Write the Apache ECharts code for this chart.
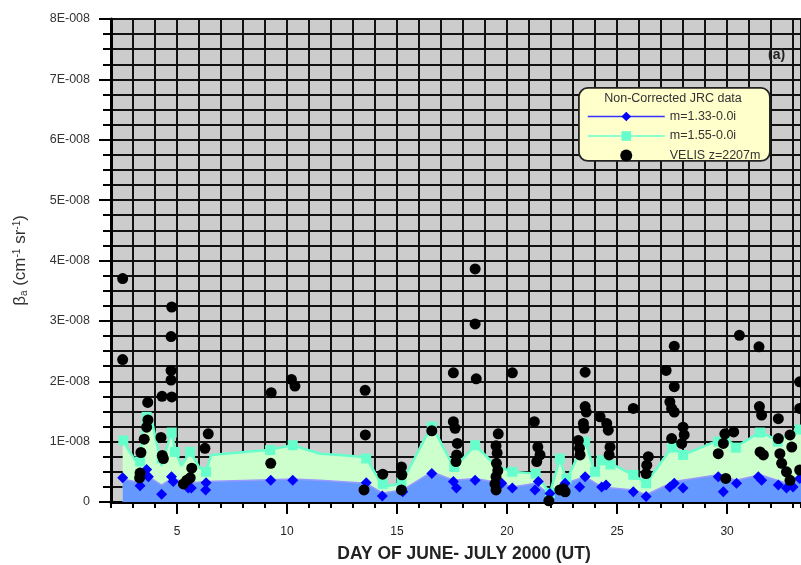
<!DOCTYPE html>
<html>
<head>
<meta charset="utf-8">
<script src="https://cdn.jsdelivr.net/npm/echarts@6/dist/echarts.min.js"></script>
<style>
html,body{margin:0;padding:0;background:#fff;}
#chart{width:801px;height:565px;}
</style>
</head>
<body>
<div id="chart"></div>
<script>
// Values in units of 1E-008 (cm^-1 sr^-1); x = day of June-July 2000 (UT)
var xLabelValues = [5, 10, 15, 20, 25, 30];
var yTickLabels = ['0', '1E-008', '2E-008', '3E-008', '4E-008', '5E-008', '6E-008', '7E-008', '8E-008'];

// VELIS z=2207m measurements
var velis = [
  [2.53,3.70],[2.53,2.36],
  [3.32,0.48],[3.36,0.82],[3.30,0.40],[3.51,1.04],[3.62,1.24],[3.68,1.36],[3.67,1.65],
  [4.27,1.07],[4.33,0.77],[4.38,0.72],[4.32,1.75],
  [4.76,1.74],[4.73,2.02],[4.73,2.18],[4.73,2.74],[4.76,3.23],
  [5.29,0.30],[5.44,0.36],[5.60,0.40],[5.67,0.56],
  [6.27,0.89],[6.42,1.13],
  [9.26,0.64],[9.28,1.81],
  [10.20,2.03],[10.36,1.92],
  [13.50,0.20],[13.56,1.11],[13.55,1.85],
  [14.35,0.46],
  [15.20,0.20],[15.22,0.45],[15.20,0.58],
  [16.58,1.18],
  [17.56,2.14],[17.56,1.33],[17.64,1.22],[17.74,0.97],[17.71,0.78],[17.68,0.67],
  [18.55,3.86],[18.55,2.95],[18.60,2.04],
  [19.50,0.20],[19.45,0.30],[19.50,0.42],[19.58,0.52],[19.52,0.64],[19.55,0.81],[19.50,0.93],[19.60,1.13],
  [20.24,2.14],
  [21.24,1.33],[21.40,0.91],[21.50,0.78],[21.35,0.67],
  [21.90,0.02],[22.40,0.20],[22.55,0.22],[22.64,0.17],
  [23.24,1.02],[23.29,0.89],[23.32,0.78],[23.47,1.30],[23.50,1.22],[23.55,1.58],[23.60,1.49],[23.55,2.15],
  [24.23,1.41],[24.53,1.30],[24.60,1.19],[24.68,0.91],[24.64,0.78],
  [25.74,1.55],
  [26.32,0.47],[26.35,0.61],[26.42,0.75],
  [27.23,2.18],[27.60,2.58],[27.60,1.91],[27.40,1.66],[27.48,1.55],[27.60,1.49],[27.48,1.05],
  [28.00,1.24],[28.05,1.11],[27.94,0.97],
  [29.60,0.80],[29.83,0.97],[29.90,1.13],[30.30,1.16],[29.94,0.39],
  [30.56,2.76],
  [31.45,2.57],[31.47,1.58],[31.57,1.44],[31.50,0.83],[31.65,0.78],
  [32.33,1.38],[32.33,1.05],[32.86,1.11],[32.94,0.91],[32.40,0.80],[32.48,0.64],[32.70,0.50],[32.86,0.36],
  [33.30,1.99],[33.30,1.55],[33.30,0.53]
];

// m=1.33-0.0i markers
var m133 = [
  [2.53,0.40],[3.32,0.27],[3.62,0.54],[3.70,0.42],[4.30,0.13],[4.75,0.42],[4.83,0.34],
  [5.51,0.23],[5.65,0.23],[6.30,0.20],[6.32,0.32],[9.26,0.36],[10.26,0.36],
  [13.60,0.32],[14.33,0.10],[15.26,0.17],[16.58,0.47],[17.56,0.34],[17.70,0.23],[18.55,0.36],
  [19.76,0.31],[20.24,0.23],[21.27,0.20],[21.42,0.34],[21.95,0.14],[22.64,0.31],
  [23.30,0.25],[23.55,0.42],[24.30,0.25],[24.50,0.28],[25.74,0.17],[26.32,0.09],
  [27.40,0.25],[27.60,0.31],[28.00,0.23],[29.60,0.42],[29.83,0.17],[30.43,0.31],
  [31.42,0.42],[31.57,0.36],[32.33,0.28],[32.70,0.23],[33.00,0.25],[33.30,0.39]
];
// m=1.33-0.0i filled curve
var m133Area = [
  [2.53,0.38],[3.32,0.32],[3.62,0.44],[4.30,0.28],[4.80,0.40],[5.20,0.34],[5.50,0.31],[6.32,0.34],
  [9.26,0.37],[10.26,0.38],[11.50,0.36],[13.60,0.31],[14.33,0.15],[15.26,0.20],[16.58,0.50],
  [17.56,0.36],[18.55,0.39],[19.76,0.31],[20.24,0.25],[21.30,0.31],[21.95,0.12],[22.40,0.28],
  [22.64,0.31],[23.55,0.42],[24.30,0.25],[25.74,0.20],[26.32,0.12],[27.60,0.34],[29.60,0.45],
  [30.40,0.36],[31.50,0.45],[32.70,0.31],[33.30,0.42],[33.70,0.40]
];

// m=1.55-0.0i markers
var m155 = [
  [2.56,1.02],[3.32,0.67],[3.62,1.41],[4.30,0.72],[4.76,1.15],[4.90,0.83],[5.59,0.83],
  [6.32,0.50],[9.23,0.86],[10.26,0.94],[13.60,0.72],[14.35,0.30],[15.20,0.33],[16.58,1.25],
  [17.60,0.58],[18.55,0.94],[20.24,0.50],[21.30,0.47],[21.95,0.15],[22.40,0.72],[22.70,0.38],
  [23.55,1.00],[24.00,0.50],[24.30,0.69],[24.70,0.62],[25.74,0.45],[26.32,0.31],[27.50,0.90],
  [28.00,0.78],[29.60,1.00],[29.90,1.06],[30.40,0.90],[31.50,1.15],[32.30,1.00],[33.30,1.20]
];
// m=1.55-0.0i filled curve
var m155Area = [
  [2.53,1.02],[3.10,0.69],[3.32,0.70],[3.50,1.46],[3.80,1.44],[4.30,0.60],[4.76,1.18],[4.90,0.86],
  [5.20,0.60],[5.60,0.83],[6.00,0.58],[6.32,0.50],[6.55,0.78],[9.10,0.86],[10.26,0.94],
  [11.50,0.80],[12.40,0.78],[13.60,0.74],[14.35,0.25],[15.20,0.31],[16.58,1.27],[17.60,0.56],
  [18.55,0.94],[19.50,0.60],[20.24,0.50],[21.30,0.47],[21.95,0.15],[22.40,0.72],[22.70,0.36],
  [23.55,1.02],[24.00,0.47],[24.30,0.69],[24.70,0.64],[25.74,0.45],[26.32,0.31],[27.50,0.91],
  [28.00,0.78],[29.60,1.02],[29.90,1.08],[30.40,0.91],[31.50,1.16],[32.30,1.02],[33.30,1.22],[33.70,1.20]
];

var FONT = '"Liberation Sans", Arial, sans-serif';
var chart = echarts.init(document.getElementById('chart'), null, {renderer: 'canvas'});
var black = '#000000';
var X_MIN = 2, X_MAX = 33.36;

chart.setOption({
  backgroundColor: '#ffffff',
  animation: false,
  textStyle: {fontFamily: FONT},
  grid: {left: 111, right: 0, top: 19, bottom: 63, show: true, backgroundColor: '#cccccc', borderWidth: 0},
  xAxis: [
    {
      type: 'value', min: X_MIN, max: X_MAX, interval: 1,
      axisLine: {show: true, onZero: false, lineStyle: {color: black, width: 3}},
      axisTick: {show: true, length: 6, lineStyle: {color: black, width: 2}},
      axisLabel: {show: false},
      splitLine: {show: true, lineStyle: {color: '#111', width: 2}}
    },
    {
      type: 'value', min: X_MIN, max: X_MAX, position: 'bottom',
      axisLine: {show: false},
      axisTick: {show: true, length: 12, customValues: xLabelValues, lineStyle: {color: black, width: 2}},
      axisLabel: {show: true, customValues: xLabelValues, fontSize: 12, color: '#222', margin: 24, fontFamily: FONT},
      splitLine: {show: false}
    }
  ],
  yAxis: {
    type: 'value', min: 0, max: 8, interval: 1,
    axisLine: {show: true, onZero: false, lineStyle: {color: black, width: 3}},
    axisTick: {show: true, length: 12, lineStyle: {color: black, width: 2}},
    minorTick: {show: true, splitNumber: 4, length: 8, lineStyle: {color: black, width: 2}},
    splitLine: {show: true, lineStyle: {color: '#111', width: 2}},
    minorSplitLine: {show: true, lineStyle: {color: '#111', width: 2}},
    axisLabel: {
      fontSize: 12.5, color: '#333', margin: 21, fontFamily: FONT,
      formatter: function (v) { return yTickLabels[Math.round(v)]; }
    },
    name: 'β{sub|a} (cm{sup|-1} sr{sup|-1})',
    nameLocation: 'middle', nameGap: 82, nameRotate: 90,
    nameTextStyle: {
      fontSize: 17, color: '#333', fontFamily: FONT,
      rich: {
        sub: {fontSize: 10, verticalAlign: 'bottom', color: '#333', padding: [7, 0, 0, 0]},
        sup: {fontSize: 10, verticalAlign: 'top', color: '#333', padding: [0, 0, 7, 0]}
      }
    }
  },
  legend: {
    orient: 'vertical', left: 582, top: 105, itemWidth: 77, itemHeight: 12, itemGap: 6.5,
    textStyle: {fontSize: 12.5, color: '#333', fontFamily: FONT},
    z: 10, selectedMode: false,
    data: [
      {name: 'm=1.33-0.0i', lineStyle: {color: '#3333ff', width: 1.5, opacity: 1}},
      {name: 'm=1.55-0.0i', lineStyle: {color: '#66ffcc', width: 1.5, opacity: 1}},
      {name: 'VELIS z=2207m'}
    ]
  },
  graphic: [
    {type: 'rect', left: 578, top: 87, z: 8,
     shape: {width: 191, height: 73, r: 9},
     style: {fill: '#ffffcc', stroke: '#222', lineWidth: 1.8}},
    {type: 'text', x: 673, y: 92, z: 9,
     style: {text: 'Non-Corrected JRC data', fill: '#333', font: '12.5px ' + FONT, textAlign: 'center', textVerticalAlign: 'top'}},
    {type: 'text', x: 768, y: 48, z: 9,
     style: {text: '(a)', fill: '#222', font: 'bold 14px ' + FONT, textVerticalAlign: 'top'}},
    {type: 'text', x: 464, y: 545, z: 9,
     style: {text: 'DAY OF JUNE- JULY 2000 (UT)', fill: '#222', font: 'bold 17.5px ' + FONT, textAlign: 'center', textVerticalAlign: 'top'}}
  ],
  series: [
    {
      name: 'area155', type: 'line', xAxisIndex: 0, data: m155Area, symbol: 'none',
      lineStyle: {color: '#66ffcc', width: 2.5},
      areaStyle: {color: '#ccffcc', opacity: 1}, z: 2
    },
    {
      name: 'area133', type: 'line', xAxisIndex: 0, data: m133Area, symbol: 'none',
      lineStyle: {color: '#9999ff', width: 1.5},
      areaStyle: {color: '#6699ff', opacity: 1}, z: 3
    },
    {
      name: 'm=1.55-0.0i', type: 'line', xAxisIndex: 0, data: m155,
      symbol: 'rect', symbolSize: 10, showAllSymbol: true,
      itemStyle: {color: '#66ffcc', opacity: 1}, lineStyle: {color: '#66ffcc', opacity: 0, width: 0}, z: 4
    },
    {
      name: 'm=1.33-0.0i', type: 'line', xAxisIndex: 0, data: m133,
      symbol: 'diamond', symbolSize: 11, showAllSymbol: true,
      itemStyle: {color: '#0000ff', opacity: 1}, lineStyle: {color: '#3333ff', opacity: 0, width: 0}, z: 5
    },
    {
      name: 'VELIS z=2207m', type: 'scatter', xAxisIndex: 0, data: velis,
      symbol: 'circle', symbolSize: 11, itemStyle: {color: '#000000', opacity: 1}, z: 6
    }
  ]
});
</script>
</body>
</html>
